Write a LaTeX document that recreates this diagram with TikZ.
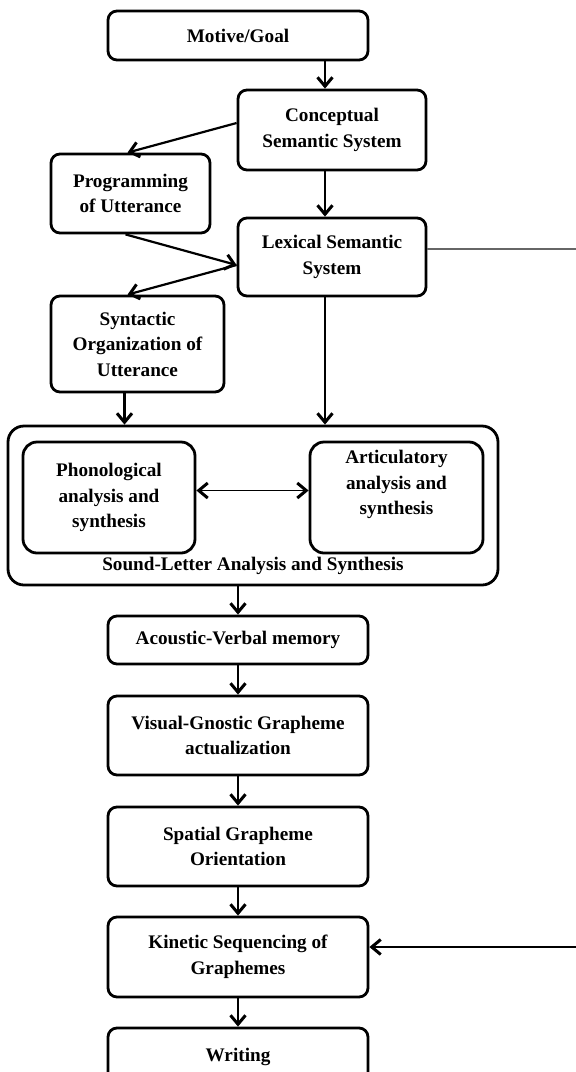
\documentclass[tikz,border=0pt]{standalone}
\usepackage{fontspec}
\setmainfont{Liberation Serif}
\usetikzlibrary{arrows.meta}

\begin{document}
\begin{tikzpicture}[x=1pt,y=-1pt,
    box/.style={draw,line width=2.8pt,rounded corners=9pt,align=center,inner sep=0pt,
        font=\fontsize{19.2}{25.5}\selectfont\bfseries},
    arr/.style={line width=2.2pt,-{Straight Barb[length=9pt,width=15pt,line width=3pt]}},
    twoway/.style={line width=1.8pt,{Straight Barb[length=9pt,width=15pt,line width=3pt]}-{Straight Barb[length=9pt,width=15pt,line width=3pt]}}]
            \useasboundingbox (0,0) rectangle (576,1072);
            \coordinate (colx) at (325,0);
            \coordinate (rim) at (576,0);

            \node[box,minimum width=260pt,minimum height=49pt] (motive) at (238,35.5) {Motive/Goal};
            \node[box,minimum width=188pt,minimum height=80pt] (concept) at (332,130) {Conceptual\\Semantic System};
            \node[box,minimum width=159pt,minimum height=79pt] (prog) at (130.5,193.5) {Programming\\of Utterance};
            \node[box,minimum width=188pt,minimum height=78pt] (lexical) at (332,257) {Lexical Semantic\\System};
            \node[box,minimum width=173pt,minimum height=96pt] (syntax) at (137.5,344) {Syntactic\\Organization of\\Utterance};

            \node[box,minimum width=490pt,minimum height=159pt,rounded corners=16pt] (sound) at (253,505.5) {};
            \node[box,minimum width=172pt,minimum height=111pt,rounded corners=14pt] (phono) at (109,497.5) {Phonological\\analysis and\\synthesis};
            \node[box,minimum width=173pt,minimum height=111pt,rounded corners=14pt] (artic) at (396.5,497.5) {Articulatory\\analysis and\\synthesis\\[4pt]};
            \node[font=\fontsize{19.2}{25.5}\selectfont\bfseries] (soundlbl) at (253,566) {Sound-Letter Analysis and Synthesis};

            \node[box,minimum width=260pt,minimum height=48pt] (acoustic) at (238,640) {Acoustic-Verbal memory};
            \node[box,minimum width=260pt,minimum height=79pt] (visual) at (238,735.5) {Visual-Gnostic Grapheme\\actualization};
            \node[box,minimum width=260pt,minimum height=79pt] (spatial) at (238,846.5) {Spatial Grapheme\\Orientation};
            \node[box,minimum width=260pt,minimum height=80pt] (kinetic) at (238,957) {Kinetic Sequencing of\\Graphemes};
            \node[box,minimum width=260pt,minimum height=58pt] (writing) at (238,1057) {Writing};

            % top part
            \draw[arr] (motive.south -| colx) -- (concept.north -| colx);
            \draw[arr] (concept.south -| colx) -- (lexical.north -| colx);
            \draw[arr] ([yshift=7pt]concept.west) -- ([xshift=-3pt]prog.north);
            \draw[arr] ([xshift=-5pt]prog.south) -- ([yshift=-8pt]lexical.west);
            \draw[arr] ([yshift=-8pt]lexical.west) -- ([xshift=-10pt]syntax.north);
            \draw[arr] ([xshift=-13pt]syntax.south) -- ([xshift=-13pt]syntax.south |- sound.north);
            \draw[arr] (lexical.south -| colx) -- (sound.north -| colx);
            \draw[line width=1.5pt,gray!80!black] ([yshift=8pt]lexical.east) -- ([yshift=8pt]lexical.east -| rim);

            % sound-letter
            \draw[twoway] ([yshift=7pt]phono.east) -- ([yshift=7pt]artic.west);

            % lower column
            \draw[arr] (sound.south -| acoustic.north) -- (acoustic.north);
            \draw[arr] (acoustic.south) -- (visual.north);
            \draw[arr] (visual.south) -- (spatial.north);
            \draw[arr] (spatial.south) -- (kinetic.north);
            \draw[arr] (kinetic.south) -- (writing.north);
            \draw[arr] ([yshift=10pt]kinetic.east -| rim) -- ([yshift=10pt]kinetic.east);
        \end{tikzpicture}
\end{document}
